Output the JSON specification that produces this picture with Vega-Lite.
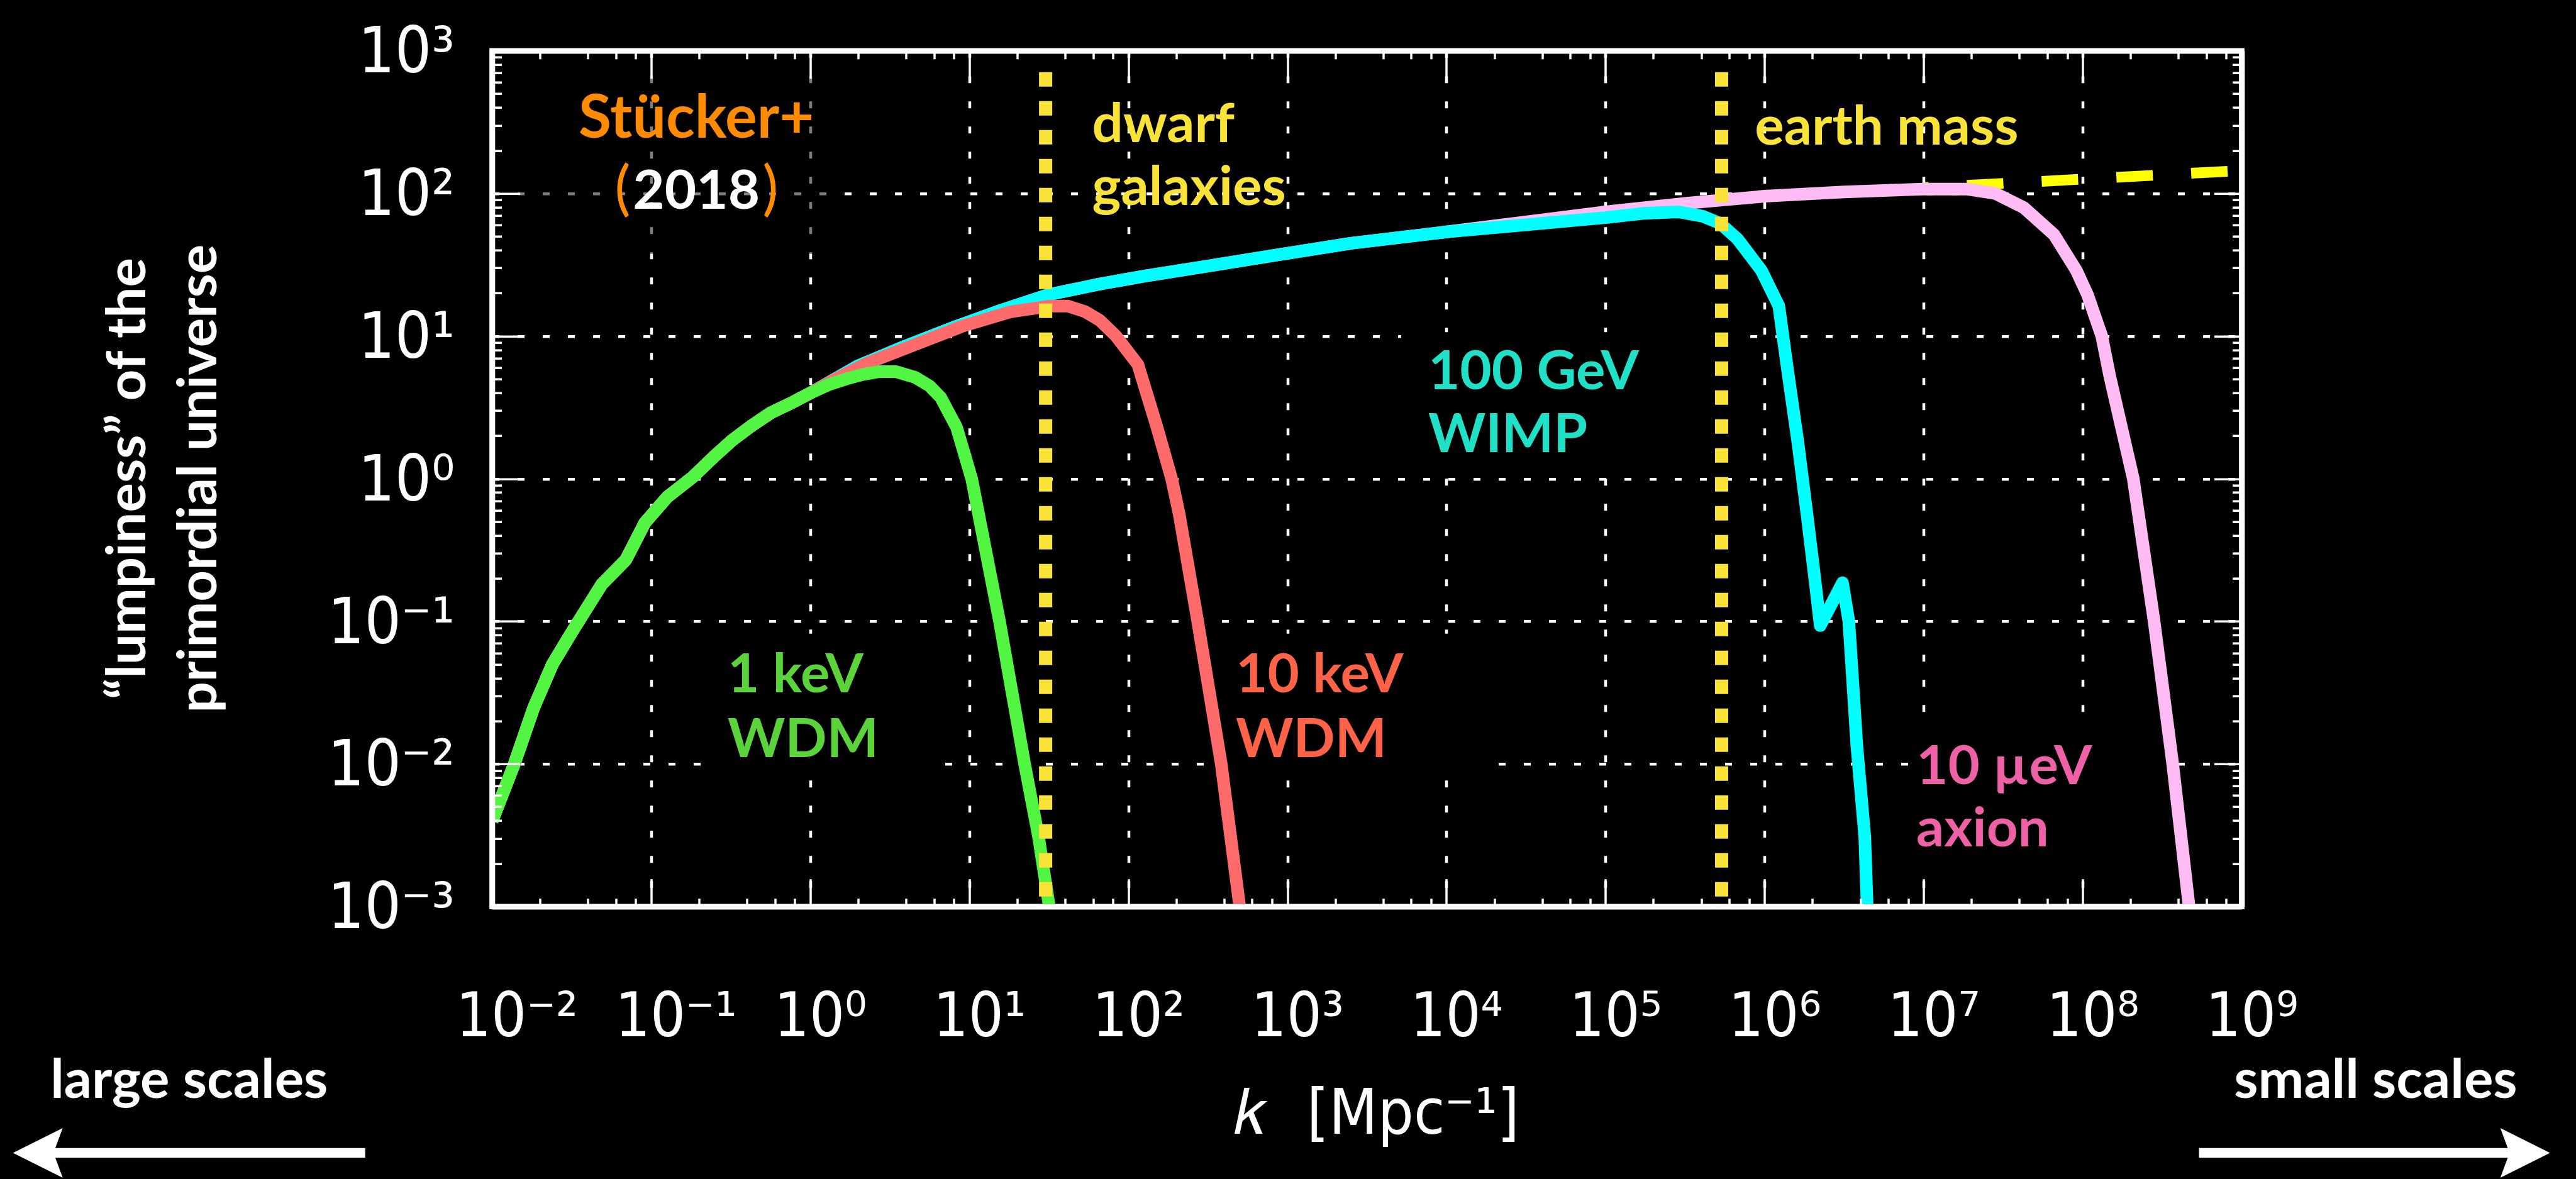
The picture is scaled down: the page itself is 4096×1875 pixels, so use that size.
{
  "$schema": "https://vega.github.io/schema/vega-lite/v6.json",
  "width": 2782,
  "height": 1361,
  "autosize": {"type": "none"},
  "padding": {"left": 782.5, "top": 80.7, "right": 531.5, "bottom": 433.3},
  "background": "black",
  "config": {"view": {"stroke": "white", "strokeWidth": 8.6}},
  "resolve": {"axis": {"x": "independent", "y": "independent"}},
  "datasets": {
    "shade": [{"k1": 0.01368, "k2": 1.489, "P1": 731.1, "P2": 37.67}],
    "boxes": [
      {"k1": 0.2606, "k2": 6.902, "P1": 0.08185, "P2": 0.008185},
      {"k1": 415, "k2": 19910, "P1": 0.08185, "P2": 0.008185},
      {"k1": 5188, "k2": 724400, "P1": 10.64, "P2": 1.151},
      {"k1": 8185000, "k2": 358100000, "P1": 0.0227, "P2": 0.001585}
    ],
    "cdm": [{"k": 10000000, "P": 109.6}, {"k": 1000000000, "P": 144.5}],
    "pink": [
      {"k": 0.01, "P": 0.00398}, {"k": 0.0138, "P": 0.01}, {"k": 0.0182, "P": 0.02455}, {"k": 0.02399, "P": 0.05012},
      {"k": 0.03236, "P": 0.0871}, {"k": 0.04898, "P": 0.182}, {"k": 0.06918, "P": 0.2692}, {"k": 0.0912, "P": 0.4898},
      {"k": 0.1259, "P": 0.7413}, {"k": 0.182, "P": 1.023}, {"k": 0.2512, "P": 1.445}, {"k": 0.3236, "P": 1.862},
      {"k": 0.4266, "P": 2.344}, {"k": 0.5623, "P": 2.884}, {"k": 0.7586, "P": 3.388}, {"k": 1, "P": 3.981},
      {"k": 1.995, "P": 6.166}, {"k": 3.981, "P": 8.511}, {"k": 7.943, "P": 11.48}, {"k": 15.85, "P": 15.14},
      {"k": 31.62, "P": 19.5}, {"k": 63.1, "P": 22.91}, {"k": 125.9, "P": 26.3}, {"k": 316.2, "P": 30.9},
      {"k": 1000, "P": 38.02}, {"k": 2512, "P": 44.67}, {"k": 10000, "P": 53.7},
      {"k": 31620, "P": 63.1}, {"k": 100000, "P": 74.13}, {"k": 316200, "P": 85.11}, {"k": 1000000, "P": 95.5},
      {"k": 3162000, "P": 102.3}, {"k": 10000000, "P": 107.2}, {"k": 18620000, "P": 107.2}, {"k": 28180000, "P": 100},
      {"k": 42660000, "P": 79.43}, {"k": 66070000, "P": 51.29}, {"k": 91200000, "P": 28.84}, {"k": 107200000, "P": 19.5},
      {"k": 131800000, "P": 10}, {"k": 147900000, "P": 5.248}, {"k": 208000000, "P": 1.0}, {"k": 281200000, "P": 0.1},
      {"k": 368100000, "P": 0.01}, {"k": 466700000, "P": 0.001}, {"k": 492000000, "P": 0.0006}
    ],
    "cyan": [
      {"k": 0.01, "P": 0.00398}, {"k": 0.0138, "P": 0.01}, {"k": 0.0182, "P": 0.02455}, {"k": 0.02399, "P": 0.05012},
      {"k": 0.03236, "P": 0.0871}, {"k": 0.04898, "P": 0.182}, {"k": 0.06918, "P": 0.2692}, {"k": 0.0912, "P": 0.4898},
      {"k": 0.1259, "P": 0.7413}, {"k": 0.182, "P": 1.023}, {"k": 0.2512, "P": 1.445}, {"k": 0.3236, "P": 1.862},
      {"k": 0.4266, "P": 2.344}, {"k": 0.5623, "P": 2.884}, {"k": 0.7586, "P": 3.388}, {"k": 1, "P": 3.981},
      {"k": 1.995, "P": 6.166}, {"k": 3.981, "P": 8.511}, {"k": 7.943, "P": 11.48}, {"k": 15.85, "P": 15.14},
      {"k": 31.62, "P": 19.5}, {"k": 63.1, "P": 22.91}, {"k": 125.9, "P": 26.3}, {"k": 316.2, "P": 30.9},
      {"k": 1000, "P": 38.02}, {"k": 2512, "P": 44.67}, {"k": 10000, "P": 53.7}, {"k": 31620, "P": 60.26},
      {"k": 100000, "P": 67.61}, {"k": 173800, "P": 72.44}, {"k": 288400, "P": 74.13}, {"k": 407400, "P": 69.18},
      {"k": 524800, "P": 61.66}, {"k": 676100, "P": 47.86}, {"k": 955000, "P": 28.84}, {"k": 1230000, "P": 16.22},
      {"k": 1380000, "P": 6.31}, {"k": 1622000, "P": 1.778}, {"k": 1862000, "P": 0.5248}, {"k": 2089000, "P": 0.182},
      {"k": 2239000, "P": 0.09333}, {"k": 3090000, "P": 0.1862}, {"k": 3388000, "P": 0.1}, {"k": 3802000, "P": 0.01349},
      {"k": 4266000, "P": 0.00309}, {"k": 4416000, "P": 0.001}, {"k": 4487000, "P": 0.0006}
    ],
    "red": [
      {"k": 0.01, "P": 0.00398}, {"k": 0.0138, "P": 0.01}, {"k": 0.0182, "P": 0.02455}, {"k": 0.02399, "P": 0.05012},
      {"k": 0.03236, "P": 0.0871}, {"k": 0.04898, "P": 0.182}, {"k": 0.06918, "P": 0.2692}, {"k": 0.0912, "P": 0.4898},
      {"k": 0.1259, "P": 0.7413}, {"k": 0.182, "P": 1.023}, {"k": 0.2512, "P": 1.445}, {"k": 0.3236, "P": 1.862},
      {"k": 0.4266, "P": 2.344}, {"k": 0.5623, "P": 2.884}, {"k": 0.7586, "P": 3.388}, {"k": 1, "P": 3.981},
      {"k": 1.585, "P": 5.248}, {"k": 2.291, "P": 6.457}, {"k": 4.571, "P": 8.71}, {"k": 9.12, "P": 11.75},
      {"k": 18.2, "P": 14.79}, {"k": 32.36, "P": 16.22}, {"k": 41.69, "P": 16.22}, {"k": 53.7, "P": 14.79},
      {"k": 66.07, "P": 12.88}, {"k": 83.56, "P": 10}, {"k": 114.8, "P": 6.31}, {"k": 151.4, "P": 2.291},
      {"k": 187.1, "P": 1.0}, {"k": 208.9, "P": 0.5623}, {"k": 272.9, "P": 0.1}, {"k": 383.7, "P": 0.01},
      {"k": 501.2, "P": 0.001}, {"k": 532, "P": 0.0006}
    ],
    "green": [
      {"k": 0.01, "P": 0.00398}, {"k": 0.0138, "P": 0.01}, {"k": 0.0182, "P": 0.02455}, {"k": 0.02399, "P": 0.05012},
      {"k": 0.03236, "P": 0.0871}, {"k": 0.04898, "P": 0.182}, {"k": 0.06918, "P": 0.2692}, {"k": 0.0912, "P": 0.4898},
      {"k": 0.1259, "P": 0.7413}, {"k": 0.182, "P": 1.023}, {"k": 0.2512, "P": 1.445}, {"k": 0.3236, "P": 1.862},
      {"k": 0.4266, "P": 2.344}, {"k": 0.5623, "P": 2.884}, {"k": 0.7586, "P": 3.388}, {"k": 1, "P": 3.981},
      {"k": 1.318, "P": 4.571}, {"k": 1.698, "P": 5.012}, {"k": 2.138, "P": 5.37}, {"k": 2.692, "P": 5.623},
      {"k": 3.467, "P": 5.623}, {"k": 4.571, "P": 5.129}, {"k": 5.623, "P": 4.467}, {"k": 6.607, "P": 3.715},
      {"k": 8.318, "P": 2.291}, {"k": 10.35, "P": 1.0}, {"k": 15.49, "P": 0.1}, {"k": 22.28, "P": 0.01},
      {"k": 27.29, "P": 0.003055}, {"k": 31.84, "P": 0.001}, {"k": 34.2, "P": 0.0006}
    ],
    "markers": [
      {"k": 30.2, "top": 707.9, "bottom": 0.001},
      {"k": 537000, "top": 707.9, "bottom": 0.001}
    ],
    "labelsLeft": [
      {"t": "1 keV", "g": "1 keV WDM", "k": 0.3027, "P": 0.03162},
      {"t": "WDM", "g": "1 keV WDM", "k": 0.3027, "P": 0.01122},
      {"t": "10 keV", "g": "10 keV WDM", "k": 474.2, "P": 0.03162},
      {"t": "WDM", "g": "10 keV WDM", "k": 474.2, "P": 0.01122},
      {"t": "100 GeV", "g": "100 GeV WIMP", "k": 7674, "P": 4.256},
      {"t": "WIMP", "g": "100 GeV WIMP", "k": 7674, "P": 1.535},
      {"t": "10 µeV", "g": "10 µeV axion", "k": 8995000, "P": 0.007244},
      {"t": "axion", "g": "10 µeV axion", "k": 8995000, "P": 0.00263},
      {"t": "dwarf", "g": "mass scale", "k": 59.23, "P": 229.1},
      {"t": "galaxies", "g": "mass scale", "k": 59.23, "P": 82.6},
      {"t": "earth mass", "g": "mass scale", "k": 869000, "P": 218.8}
    ],
    "refName": [
      {"t": "Stücker+", "k": 0.1923, "P": 245.5}
    ],
    "refParens": [
      {"t": "(", "k": 0.06613, "P": 77.62},
      {"t": ")", "k": 0.5612, "P": 77.62}
    ],
    "whiteCentered": [
      {"t": "2018", "k": 0.1923, "P": 77.62},
      {"t": "large scales", "k": 0.0001245, "P": 0.0000456},
      {"t": "small scales", "k": 6950000000, "P": 0.0000456}
    ],
    "shafts": [
      {"side": "left", "k1": 0.00001393, "k2": 0.001592, "P": 0.00001875},
      {"side": "right", "k1": 538300000, "k2": 60530000000, "P": 0.00001875}
    ],
    "heads": [
      {"side": "left", "k": 0.00001393, "P": 0.00001875},
      {"side": "right", "k": 60530000000, "P": 0.00001875}
    ]
  },
  "layer": [
    {
      "data": {"name": "shade"},
      "mark": {"type": "rect", "color": "black", "opacity": 0.5},
      "encoding": {
        "x": {"field": "k1", "type": "quantitative", "scale": {"type": "log", "domain": [0.01, 1000000000]}, "axis": null},
        "x2": {"field": "k2"},
        "y": {"field": "P1", "type": "quantitative", "scale": {"type": "log", "domain": [0.001, 1000]}, "axis": null},
        "y2": {"field": "P2"}
      }
    },
    {
      "data": {"name": "boxes"},
      "mark": {"type": "rect", "color": "black", "opacity": 1},
      "encoding": {
        "x": {"field": "k1", "type": "quantitative", "scale": {"type": "log", "domain": [0.01, 1000000000]}, "axis": null},
        "x2": {"field": "k2"},
        "y": {"field": "P1", "type": "quantitative", "scale": {"type": "log", "domain": [0.001, 1000]}, "axis": null},
        "y2": {"field": "P2"}
      }
    },
    {
      "data": {"name": "cdm"},
      "mark": {"type": "line", "color": "#ffff00", "strokeWidth": 17, "strokeDash": [58, 61], "strokeDashOffset": 50, "strokeCap": "butt"},
      "encoding": {
        "x": {"field": "k", "type": "quantitative", "scale": {"type": "log", "domain": [0.01, 1000000000]}, "axis": null},
        "y": {"field": "P", "type": "quantitative", "scale": {"type": "log", "domain": [0.001, 1000]}, "axis": null}
      }
    },
    {
      "data": {"name": "pink"},
      "mark": {"type": "line", "color": "#ffbcf4", "strokeWidth": 20, "strokeJoin": "round", "strokeCap": "butt", "clip": true},
      "encoding": {
        "x": {"field": "k", "type": "quantitative", "scale": {"type": "log", "domain": [0.01, 1000000000]},
          "axis": {
            "orient": "bottom",
            "values": [0.01, 0.1, 1, 10, 100, 1000, 10000, 100000, 1000000, 10000000, 100000000, 1000000000],
            "labelExpr": "'10' + ['⁻³','⁻²','⁻¹','⁰','¹','²','³','⁴','⁵','⁶','⁷','⁸','⁹'][round(log(datum.value)/LN10) + 3]",
            "labelFont": "DejaVu Sans Condensed, DejaVu Sans",
            "labelFontSize": 98,
            "labelColor": "white",
            "labelAlign": "left",
            "labelBaseline": "alphabetic",
            "labelOffset": -58,
            "labelPadding": 206,
            "labelLimit": 0,
            "labelFlush": false,
            "labelOverlap": false,
            "labelBound": false,
            "ticks": false,
            "domain": false,
            "grid": true,
            "gridColor": "white",
            "gridWidth": 4.5,
            "gridDash": [11, 29],
            "gridOpacity": 1,
            "title": "𝑘\u2002\u2009[Mpc⁻¹]",
            "titleFont": "DejaVu Sans Condensed, DejaVu Sans",
            "titleFontSize": 100,
            "titleFontWeight": "normal",
            "titleColor": "white",
            "titleX": 1406,
            "titleY": 361,
            "titleAlign": "center",
            "titleBaseline": "alphabetic",
            "titleLimit": 0,
            "zindex": 0
          }
        },
        "y": {"field": "P", "type": "quantitative", "scale": {"type": "log", "domain": [0.001, 1000]},
          "axis": {
            "orient": "left",
            "values": [0.001, 0.01, 0.1, 1, 10, 100, 1000],
            "labelExpr": "'10' + ['⁻³','⁻²','⁻¹','⁰','¹','²','³','⁴','⁵','⁶','⁷','⁸','⁹'][round(log(datum.value)/LN10) + 3]",
            "labelFont": "DejaVu Sans Condensed, DejaVu Sans",
            "labelFontSize": 102,
            "labelColor": "white",
            "labelAlign": "right",
            "labelBaseline": "alphabetic",
            "labelOffset": 34,
            "labelPadding": 60,
            "labelLimit": 0,
            "labelFlush": false,
            "labelOverlap": false,
            "labelBound": false,
            "ticks": false,
            "domain": false,
            "grid": true,
            "gridColor": "white",
            "gridWidth": 4.5,
            "gridDash": [11, 29],
            "gridOpacity": 1,
            "title": ["“lumpiness” of the", "primordial universe"],
            "titleFont": "Lato",
            "titleFontWeight": "bold",
            "titleFontSize": 87,
            "titleLineHeight": 113,
            "titleColor": "white",
            "titleAngle": -90,
            "titleAlign": "center",
            "titleBaseline": "alphabetic",
            "titleX": -552,
            "titleY": 680,
            "titleLimit": 0,
            "zindex": 0
          }
        }
      }
    },
    {
      "data": {"name": "cyan"},
      "mark": {"type": "line", "color": "#00ffff", "strokeWidth": 20, "strokeJoin": "round", "strokeCap": "butt", "clip": true},
      "encoding": {
        "x": {"field": "k", "type": "quantitative", "scale": {"type": "log", "domain": [0.01, 1000000000]},
          "axis": {
            "orient": "bottom",
            "values": [0.01, 0.1, 1, 10, 100, 1000, 10000, 100000, 1000000, 10000000, 100000000, 1000000000,
              0.02, 0.04, 0.06, 0.08, 0.2, 0.4, 0.6, 0.8, 2, 4, 6, 8, 20, 40, 60, 80, 200, 400, 600, 800,
              2000, 4000, 6000, 8000, 20000, 40000, 60000, 80000, 200000, 400000, 600000, 800000,
              2000000, 4000000, 6000000, 8000000, 20000000, 40000000, 60000000, 80000000,
              200000000, 400000000, 600000000, 800000000],
            "labels": false, "grid": false, "ticks": true,
            "tickColor": "white", "tickWidth": 3.5,
            "tickSize": {"condition": {"test": "abs(log(datum.value)/LN10 - round(log(datum.value)/LN10)) < 0.001", "value": -44}, "value": -13},
            "domain": true, "domainColor": "white", "domainWidth": 8.6,
            "title": null, "zindex": 1
          }
        },
        "y": {"field": "P", "type": "quantitative", "scale": {"type": "log", "domain": [0.001, 1000]},
          "axis": {
            "orient": "left",
            "values": [0.001, 0.01, 0.1, 1, 10, 100, 1000,
              0.002, 0.003, 0.004, 0.005, 0.006, 0.007, 0.008, 0.009,
              0.02, 0.03, 0.04, 0.05, 0.06, 0.07, 0.08, 0.09,
              0.2, 0.3, 0.4, 0.5, 0.6, 0.7, 0.8, 0.9,
              2, 3, 4, 5, 6, 7, 8, 9,
              20, 30, 40, 50, 60, 70, 80, 90,
              200, 300, 400, 500, 600, 700, 800, 900],
            "labels": false, "grid": false, "ticks": true,
            "tickColor": "white", "tickWidth": 3.5,
            "tickSize": {"condition": {"test": "abs(log(datum.value)/LN10 - round(log(datum.value)/LN10)) < 0.001", "value": -44}, "value": -15},
            "domain": true, "domainColor": "white", "domainWidth": 8.6,
            "title": null, "zindex": 1
          }
        }
      }
    },
    {
      "data": {"name": "red"},
      "mark": {"type": "line", "color": "#ff6b6b", "strokeWidth": 20, "strokeJoin": "round", "strokeCap": "butt", "clip": true},
      "encoding": {
        "x": {"field": "k", "type": "quantitative", "scale": {"type": "log", "domain": [0.01, 1000000000]},
          "axis": {
            "orient": "top",
            "values": [0.01, 0.1, 1, 10, 100, 1000, 10000, 100000, 1000000, 10000000, 100000000, 1000000000,
              0.02, 0.04, 0.06, 0.08, 0.2, 0.4, 0.6, 0.8, 2, 4, 6, 8, 20, 40, 60, 80, 200, 400, 600, 800,
              2000, 4000, 6000, 8000, 20000, 40000, 60000, 80000, 200000, 400000, 600000, 800000,
              2000000, 4000000, 6000000, 8000000, 20000000, 40000000, 60000000, 80000000,
              200000000, 400000000, 600000000, 800000000],
            "labels": false, "grid": false, "ticks": true,
            "tickColor": "white", "tickWidth": 3.5,
            "tickSize": {"condition": {"test": "abs(log(datum.value)/LN10 - round(log(datum.value)/LN10)) < 0.001", "value": -44}, "value": -13},
            "domain": true, "domainColor": "white", "domainWidth": 8.6,
            "title": null, "zindex": 1
          }
        },
        "y": {"field": "P", "type": "quantitative", "scale": {"type": "log", "domain": [0.001, 1000]},
          "axis": {
            "orient": "right",
            "values": [0.001, 0.01, 0.1, 1, 10, 100, 1000,
              0.002, 0.003, 0.004, 0.005, 0.006, 0.007, 0.008, 0.009,
              0.02, 0.03, 0.04, 0.05, 0.06, 0.07, 0.08, 0.09,
              0.2, 0.3, 0.4, 0.5, 0.6, 0.7, 0.8, 0.9,
              2, 3, 4, 5, 6, 7, 8, 9,
              20, 30, 40, 50, 60, 70, 80, 90,
              200, 300, 400, 500, 600, 700, 800, 900],
            "labels": false, "grid": false, "ticks": true,
            "tickColor": "white", "tickWidth": 3.5,
            "tickSize": {"condition": {"test": "abs(log(datum.value)/LN10 - round(log(datum.value)/LN10)) < 0.001", "value": -44}, "value": -15},
            "domain": true, "domainColor": "white", "domainWidth": 8.6,
            "title": null, "zindex": 1
          }
        }
      }
    },
    {
      "data": {"name": "green"},
      "mark": {"type": "line", "color": "#52f542", "strokeWidth": 20, "strokeJoin": "round", "strokeCap": "butt", "clip": true},
      "encoding": {
        "x": {"field": "k", "type": "quantitative", "scale": {"type": "log", "domain": [0.01, 1000000000]}, "axis": null},
        "y": {"field": "P", "type": "quantitative", "scale": {"type": "log", "domain": [0.001, 1000]}, "axis": null}
      }
    },
    {
      "data": {"name": "markers"},
      "mark": {"type": "rule", "color": "#f9e339", "strokeWidth": 21, "strokeDash": [23, 23], "strokeCap": "butt"},
      "encoding": {
        "x": {"field": "k", "type": "quantitative", "scale": {"type": "log", "domain": [0.01, 1000000000]}, "axis": null},
        "y": {"field": "top", "type": "quantitative", "scale": {"type": "log", "domain": [0.001, 1000]}, "axis": null},
        "y2": {"field": "bottom"}
      }
    },
    {
      "data": {"name": "labelsLeft"},
      "mark": {"type": "text", "align": "left", "baseline": "alphabetic", "font": "Lato", "fontWeight": "bold", "fontSize": 87},
      "encoding": {
        "x": {"field": "k", "type": "quantitative", "scale": {"type": "log", "domain": [0.01, 1000000000]}, "axis": null},
        "y": {"field": "P", "type": "quantitative", "scale": {"type": "log", "domain": [0.001, 1000]}, "axis": null},
        "text": {"field": "t"},
        "color": {"field": "g", "type": "nominal",
          "scale": {"domain": ["1 keV WDM", "10 keV WDM", "100 GeV WIMP", "10 µeV axion", "mass scale"],
                    "range": ["#5ad43a", "#ff6347", "#20e0c8", "#ee61a6", "#f9e339"]},
          "legend": null}
      }
    },
    {
      "data": {"name": "refName"},
      "mark": {"type": "text", "align": "center", "baseline": "alphabetic", "font": "Lato", "fontWeight": "bold", "fontSize": 95, "color": "#ff8c00"},
      "encoding": {
        "x": {"field": "k", "type": "quantitative", "scale": {"type": "log", "domain": [0.01, 1000000000]}, "axis": null},
        "y": {"field": "P", "type": "quantitative", "scale": {"type": "log", "domain": [0.001, 1000]}, "axis": null},
        "text": {"field": "t"}
      }
    },
    {
      "data": {"name": "refParens"},
      "mark": {"type": "text", "align": "center", "baseline": "alphabetic", "font": "Lato", "fontWeight": "normal", "fontSize": 95, "color": "#ff8c00"},
      "encoding": {
        "x": {"field": "k", "type": "quantitative", "scale": {"type": "log", "domain": [0.01, 1000000000]}, "axis": null},
        "y": {"field": "P", "type": "quantitative", "scale": {"type": "log", "domain": [0.001, 1000]}, "axis": null},
        "text": {"field": "t"}
      }
    },
    {
      "data": {"name": "whiteCentered"},
      "mark": {"type": "text", "align": "center", "baseline": "alphabetic", "font": "Lato", "fontWeight": "bold", "fontSize": 87, "color": "white"},
      "encoding": {
        "x": {"field": "k", "type": "quantitative", "scale": {"type": "log", "domain": [0.01, 1000000000]}, "axis": null},
        "y": {"field": "P", "type": "quantitative", "scale": {"type": "log", "domain": [0.001, 1000]}, "axis": null},
        "text": {"field": "t"}
      }
    },
    {
      "data": {"name": "shafts"},
      "mark": {"type": "rule", "color": "white", "strokeWidth": 15.5, "strokeCap": "butt"},
      "encoding": {
        "x": {"field": "k1", "type": "quantitative", "scale": {"type": "log", "domain": [0.01, 1000000000]}, "axis": null},
        "x2": {"field": "k2"},
        "y": {"field": "P", "type": "quantitative", "scale": {"type": "log", "domain": [0.001, 1000]}, "axis": null}
      }
    },
    {
      "data": {"name": "heads"},
      "mark": {"type": "point", "filled": true, "color": "white", "opacity": 1, "size": 6241},
      "encoding": {
        "x": {"field": "k", "type": "quantitative", "scale": {"type": "log", "domain": [0.01, 1000000000]}, "axis": null},
        "y": {"field": "P", "type": "quantitative", "scale": {"type": "log", "domain": [0.001, 1000]}, "axis": null},
        "shape": {"field": "side", "type": "nominal",
          "scale": {"domain": ["left", "right"], "range": ["M-1,0L1,-1L0.63,0L1,1Z", "M1,0L-1,-1L-0.63,0L-1,1Z"]},
          "legend": null}
      }
    }
  ]
}
